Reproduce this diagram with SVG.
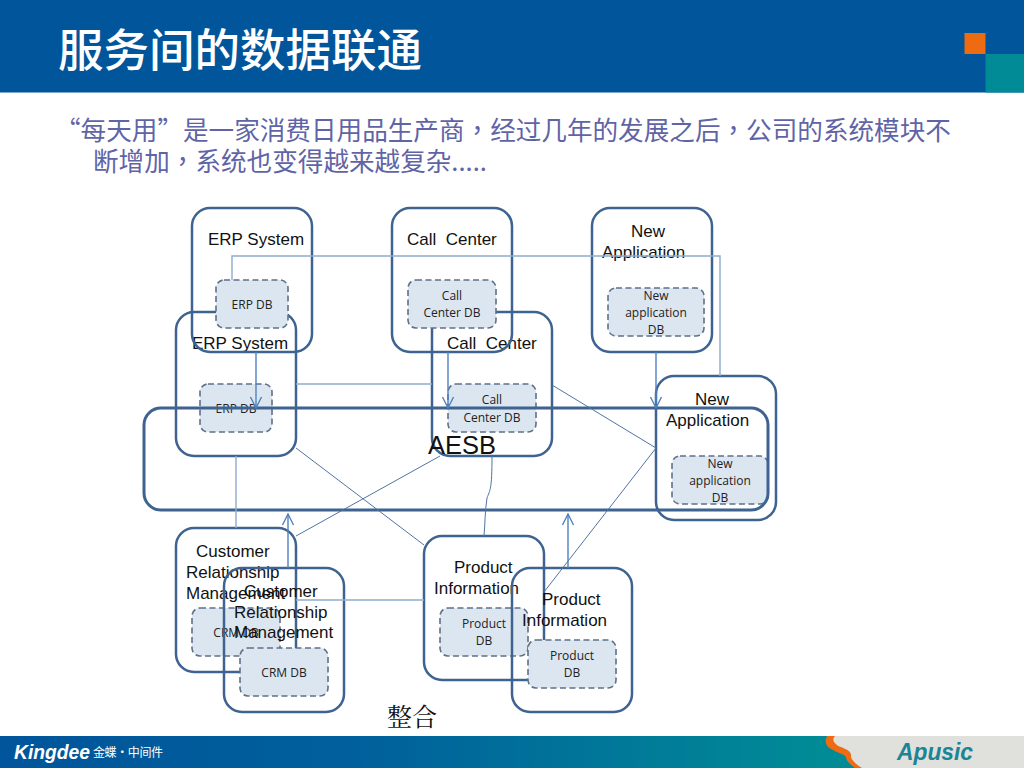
<svg xmlns="http://www.w3.org/2000/svg" width="1024" height="768" viewBox="0 0 1024 768">
<style>
.box{fill:none;stroke:#3f6391;stroke-width:2.5}
.db{fill:#dce6f1;stroke:#5f7087;stroke-width:1.6;stroke-dasharray:6 3.5}
.n{font-family:"Liberation Sans",Arial,sans-serif;font-size:17px;fill:#111}
.d{font-family:"Open Sans","Noto Sans",sans-serif;font-size:12px;fill:#222;text-anchor:middle}
.l{fill:none;stroke:#8eaccd;stroke-width:1.4}
.a{fill:none;stroke:#4f81bd;stroke-width:1.4;marker-end:url(#arr)}
.t{fill:none;stroke:#4f74a3;stroke-width:1}
.p{font-family:"Noto Sans CJK TC",sans-serif}
</style>
<defs>
<marker id="arr" markerUnits="userSpaceOnUse" markerWidth="14" markerHeight="14" refX="12" refY="7" orient="auto"><path d="M1 1.5L12 7L1 12.5" fill="none" stroke="#4f81bd" stroke-width="1.4"/></marker>
<linearGradient id="foot" x1="0" x2="1" y1="0" y2="0"><stop offset="0" stop-color="#00559b"/><stop offset="0.35" stop-color="#00609c"/><stop offset="0.8" stop-color="#008b96"/></linearGradient>
</defs>
<rect width="1024" height="768" fill="#fff"/>
<g id="header">
<rect width="1024" height="92.500" fill="#00559b"/>
<rect x="964.500" y="33" width="21" height="21" fill="#ee6b12"/>
<rect x="985.500" y="54" width="38.500" height="38.500" fill="#008b96"/>
<text x="58" y="67" font-family="'Noto Sans CJK SC',sans-serif" font-size="45.500" font-weight="500" fill="#fff">服务间的数据联通</text>
</g>
<g id="intro" font-family="'Noto Sans CJK SC',sans-serif" font-size="25.600" fill="#5f64a6">
<text x="55" y="140">“每天用”是一家消费日用品生产商<tspan class="p">，</tspan>经过几年的发展之后<tspan class="p">，</tspan>公司的系统模块不</text>
<text x="93" y="171">断增加<tspan class="p">，</tspan>系统也变得越来越复杂.....</text>
</g>
<g id="erp-2"><rect class="box" x="176" y="312" width="120" height="144" rx="18"/><rect class="db" x="200" y="384" width="72" height="48" rx="8"/><text class="n" x="192" y="349">ERP System</text><text class="d" x="236" y="413">ERP DB</text></g>
<g id="erp-1"><rect class="box" x="192" y="208" width="120" height="144" rx="18"/><rect class="db" x="216" y="280" width="72" height="48" rx="8"/><text class="n" x="208" y="245">ERP System</text><text class="d" x="252" y="309">ERP DB</text></g>
<g id="call-2"><rect class="box" x="432" y="312" width="120" height="144" rx="18"/><rect class="db" x="448" y="384" width="88" height="48" rx="8"/><text class="n" x="447" y="349" xml:space="preserve">Call  Center</text><text class="d" x="492" y="404">Call</text><text class="d" x="492" y="422">Center DB</text></g>
<g id="call-1"><rect class="box" x="392" y="208" width="120" height="144" rx="18"/><rect class="db" x="408" y="280" width="88" height="48" rx="8"/><text class="n" x="407" y="245" xml:space="preserve">Call  Center</text><text class="d" x="452" y="300">Call</text><text class="d" x="452" y="317">Center DB</text></g>
<g id="new-1"><rect class="box" x="592" y="208" width="120" height="144" rx="18"/><rect class="db" x="608" y="288" width="96" height="48" rx="8"/><text class="n" x="631" y="237">New</text><text class="n" x="602" y="258">Application</text><text class="d" x="656" y="300">New</text><text class="d" x="656" y="317">application</text><text class="d" x="656" y="334">DB</text></g>
<g id="new-2"><rect class="box" x="656" y="376" width="120" height="144" rx="18"/><rect class="db" x="672" y="456" width="96" height="48" rx="8"/><text class="n" x="695" y="405">New</text><text class="n" x="666" y="426">Application</text><text class="d" x="720" y="468">New</text><text class="d" x="720" y="485">application</text><text class="d" x="720" y="502">DB</text></g>
<g id="crm-1"><rect class="box" x="176" y="528" width="120" height="144" rx="18"/><rect class="db" x="192" y="608" width="88" height="48" rx="8"/><text class="n" x="196" y="557">Customer</text><text class="n" x="186" y="578">Relationship</text><text class="n" x="186" y="599">Management</text><text class="d" x="236" y="637">CRM DB</text></g>
<g id="crm-2"><rect class="box" x="224" y="568" width="120" height="144" rx="18"/><rect class="db" x="240" y="648" width="88" height="48" rx="8"/><text class="n" x="244" y="597">Customer</text><text class="n" x="234" y="618">Relationship</text><text class="n" x="234" y="638">Management</text><text class="d" x="284" y="677">CRM DB</text></g>
<g id="product-1"><rect class="box" x="424" y="536" width="120" height="144" rx="18"/><rect class="db" x="440" y="608" width="88" height="48" rx="8"/><text class="n" x="454" y="573">Product</text><text class="n" x="434" y="594">Information</text><text class="d" x="484" y="628">Product</text><text class="d" x="484" y="645">DB</text></g>
<g id="product-2"><rect class="box" x="512" y="568" width="120" height="144" rx="18"/><rect class="db" x="528" y="640" width="88" height="48" rx="8"/><text class="n" x="542" y="605">Product</text><text class="n" x="522" y="626">Information</text><text class="d" x="572" y="660">Product</text><text class="d" x="572" y="677">DB</text></g>
<g id="aesb"><rect x="144" y="408" width="624" height="102" rx="17" fill="none" stroke="#3f6391" stroke-width="3"/><text x="428" y="454" font-family="'Liberation Sans',Arial,sans-serif" font-size="25.500px" fill="#111">AESB</text></g>
<g id="connectors">
<path class="l" d="M232 280V256H720V376"/>
<path class="a" d="M256 352V408"/>
<path class="a" d="M448 352V408"/>
<path class="a" d="M656 352V408"/>
<path class="l" d="M296 384H432"/>
<path class="l" d="M236 456V528"/>
<path class="t" d="M296 448L424 545"/>
<path class="t" d="M552 385L656 448L544 592"/>
<path class="t" d="M440 456L296 536"/>
<path class="t" d="M492 456C492 490 490 490 487 498C485 510 485 525 484 536"/>
<path class="a" d="M288 568V514"/>
<path class="a" d="M568 568V514"/>
<path class="l" d="M296 600H424"/>
</g>
<text id="zhenghe" x="387" y="726" font-family="'Noto Serif CJK SC','Noto Sans CJK SC',serif" font-size="25px" fill="#111">整合</text>
<g id="footer">
<rect y="736" width="1024" height="32" fill="url(#foot)"/>
<path d="M827 736H1024V768H858C853 763 849 760 848 757C845 752 838 751 834 748C830 745 829 741 827 736Z" fill="#e0e0dc"/>
<path d="M827 736H835C831 740 835 745 841 747C848 750 852 752 851 757C852 761 856 764 862 768H855C850 764 846 761 846 757C844 754 838 753 833 750C826 747 824 742 827 736Z" fill="#ee6b12"/>
<text x="14" y="759" font-family="'Liberation Sans',sans-serif" font-size="21px" font-weight="bold" font-style="italic" fill="#fff" textLength="76" lengthAdjust="spacingAndGlyphs">Kingdee</text>
<text x="93" y="757" font-family="'Noto Sans CJK SC',sans-serif" font-size="12px" fill="#fff" textLength="70">金蝶·中间件</text>
<text x="897" y="760" font-family="'Liberation Sans',sans-serif" font-size="24px" font-weight="bold" font-style="italic" fill="#1b8496" textLength="76" lengthAdjust="spacingAndGlyphs">Apusic</text>
</g>
</svg>
